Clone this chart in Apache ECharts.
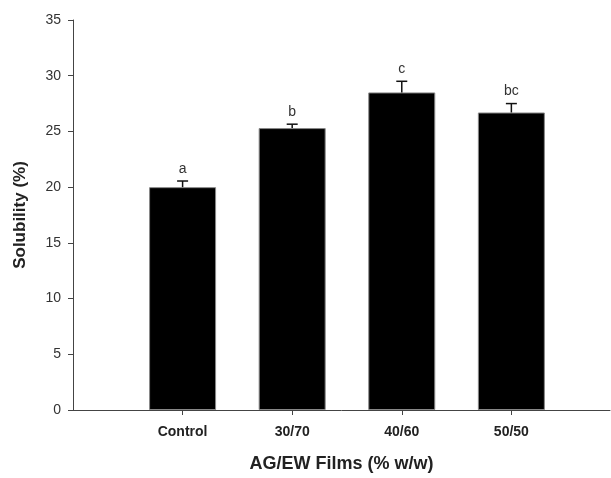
<!DOCTYPE html>
<html>
<head>
<meta charset="utf-8">
<script src="https://cdn.jsdelivr.net/npm/echarts@6/dist/echarts.min.js"></script>
<style>html,body{margin:0;padding:0;background:#fff}#c{width:611px;height:478px}</style>
</head>
<body>
<div id="c"></div>
<script>
const categories = ['Control', '30/70', '40/60', '50/50'];
const solubility = [20.0, 25.3, 28.5, 26.7];
const errors = [0.55, 0.35, 1.0, 0.8];
const letters = ['a', 'b', 'c', 'bc'];
const yTicks = [0, 5, 10, 15, 20, 25, 30, 35];

const positions = categories.map((c, i) => i + 1);
const chart = echarts.init(document.getElementById('c'), null, {renderer: 'canvas'});
const font = 'Liberation Sans, Arial, sans-serif';

chart.setOption({
  animation: false,
  backgroundColor: '#fff',
  grid: {left: 73, right: 1, top: 20, bottom: 65},
  xAxis: {
    type: 'value', min: 0, max: 4.9, interval: 1,
    name: 'AG/EW Films (% w/w)', nameLocation: 'middle', nameGap: 45,
    nameTextStyle: {fontFamily: font, fontWeight: 'bold', fontSize: 18, color: '#222'},
    axisLine: {show: true, onZero: false, lineStyle: {color: '#444', width: 1}},
    axisTick: {show: true, customValues: positions, length: 5, lineStyle: {color: '#444'}},
    splitLine: {show: false},
    axisLabel: {
      customValues: positions, margin: 15,
      formatter: v => categories[Math.round(v) - 1] || '',
      fontFamily: font, fontWeight: 'bold', fontSize: 14, color: '#222'
    }
  },
  yAxis: {
    type: 'value', min: 0, max: 35, interval: 5,
    name: 'Solubility (%)', nameLocation: 'middle', nameGap: 44,
    nameTextStyle: {fontFamily: font, fontWeight: 'bold', fontSize: 17, color: '#222'},
    axisLine: {show: true, lineStyle: {color: '#444', width: 1}},
    axisTick: {show: true, length: 5, lineStyle: {color: '#444'}},
    splitLine: {show: false},
    axisLabel: {
      margin: 12, fontFamily: font, fontSize: 14, color: '#333',
      formatter: v => yTicks.includes(v) ? String(v) : ''
    }
  },
  series: [
    {
      type: 'bar',
      barWidth: 67,
      data: positions.map((p, i) => [p, solubility[i]]),
      itemStyle: {color: '#000', borderColor: '#888', borderWidth: 1}
    },
    {
      type: 'custom',
      data: positions.map((p, i) => [p, solubility[i], errors[i], i]),
      renderItem: (params, api) => {
        const x = api.value(0), v = api.value(1), e = api.value(2), idx = api.value(3);
        const base = api.coord([x, v]);
        const top = api.coord([x, v + e]);
        const half = 5.5;
        return {
          type: 'group',
          children: [
            {type: 'line', shape: {x1: base[0], y1: base[1], x2: top[0], y2: top[1]}, style: {stroke: '#111', lineWidth: 1.5}},
            {type: 'line', shape: {x1: top[0] - half, y1: top[1], x2: top[0] + half, y2: top[1]}, style: {stroke: '#111', lineWidth: 1.5}},
            {type: 'text', x: top[0], y: top[1] - 5, style: {text: letters[idx], textAlign: 'center', textVerticalAlign: 'bottom', font: '14px ' + font, fill: '#333'}}
          ]
        };
      },
      z: 5
    }
  ]
});
</script>
</body>
</html>
